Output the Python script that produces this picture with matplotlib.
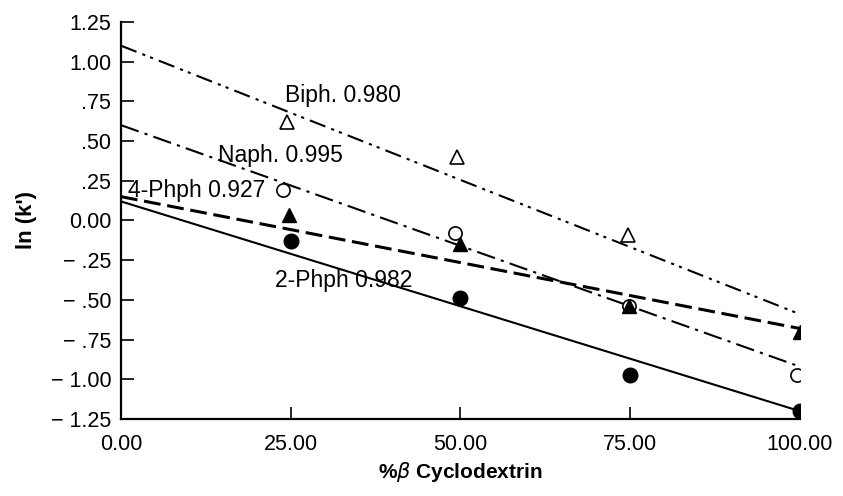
import numpy as np
import matplotlib.pyplot as plt

plt.rcParams['font.family'] = ['Liberation Sans', 'DejaVu Sans']

# measured points (% beta-cyclodextrin, ln k')
biph_x = [24.5, 49.5, 74.7]
biph_y = [0.62, 0.40, -0.09]
naph_x = [23.8, 49.2, 74.8, 99.5]
naph_y = [0.19, -0.08, -0.54, -0.97]
phph4_x = [24.8, 49.9, 74.8, 100.0]
phph4_y = [0.035, -0.15, -0.54, -0.70]
phph2_x = [25.0, 50.0, 75.0, 100.0]
phph2_y = [-0.13, -0.49, -0.97, -1.20]

# regression lines (value at x=0 and x=100)
fit_x = [0, 100]
biph_fit = [1.10, -0.59]
naph_fit = [0.60, -0.92]
phph4_fit = [0.15, -0.68]
phph2_fit = [0.12, -1.20]

xticks = [0, 25, 50, 75, 100]
xticklabels = ['0.00', '25.00', '50.00', '75.00', '100.00']
yticks = [1.25, 1.0, 0.75, 0.5, 0.25, 0.0, -0.25, -0.5, -0.75, -1.0, -1.25]
yticklabels = ['1.25', '1.00', '.75', '.50', '.25', '0.00',
               '\u2212 .25', '\u2212 .50', '\u2212 .75', '\u2212 1.00', '\u2212 1.25']

fig = plt.figure(figsize=(8.43, 4.96), dpi=100)
ax = fig.add_axes([0.1435, 0.155, 0.8055, 0.801])

# fit lines
ax.plot(fit_x, biph_fit, color='black', lw=1.5, dashes=(8, 3, 1.5, 2.5, 1.5, 3))
ax.plot(fit_x, naph_fit, color='black', lw=1.5, dashes=(9, 3, 1.5, 3))
ax.plot(fit_x, phph4_fit, color='black', lw=2.2, dashes=(5.5, 2.2))
ax.plot(fit_x, phph2_fit, color='black', lw=1.5)

# data markers
ax.plot(biph_x, biph_y, ls='none', marker='^', ms=10, mfc='white', mec='black', mew=1.2)
ax.plot(naph_x, naph_y, ls='none', marker='o', ms=9.5, mfc='white', mec='black', mew=1.2)
ax.plot(phph4_x, phph4_y, ls='none', marker='^', ms=10.5, mfc='black', mec='black')
ax.plot(phph2_x, phph2_y, ls='none', marker='o', ms=10.5, mfc='black', mec='black')

# curve labels with correlation coefficients
ax.text(24.2, 0.785, 'Biph. 0.980', fontsize=16.5, va='center')
ax.text(14.3, 0.41, 'Naph. 0.995', fontsize=16.5, va='center')
ax.text(1.0, 0.19, '4-Phph 0.927', fontsize=16.5, va='center')
ax.text(22.7, -0.38, '2-Phph 0.982', fontsize=16.5, va='center')

ax.set_xlim(0, 100)
ax.set_ylim(-1.25, 1.25)
ax.set_xticks(xticks)
ax.set_xticklabels(xticklabels)
ax.set_yticks(yticks)
ax.set_yticklabels(yticklabels)
ax.tick_params(direction='in', length=9, width=1.2, labelsize=15.5, pad=7)
ax.tick_params(axis='x', pad=11)

for s in ['top', 'right']:
    ax.spines[s].set_visible(False)
for s in ['left', 'bottom']:
    ax.spines[s].set_linewidth(1.6)

ax.set_xlabel('%$\\beta$ Cyclodextrin', fontsize=15, fontweight='bold', labelpad=3)
ax.set_ylabel("ln (k')", fontsize=16, fontweight='bold', labelpad=10)

fig.savefig('out.png', dpi=100)
